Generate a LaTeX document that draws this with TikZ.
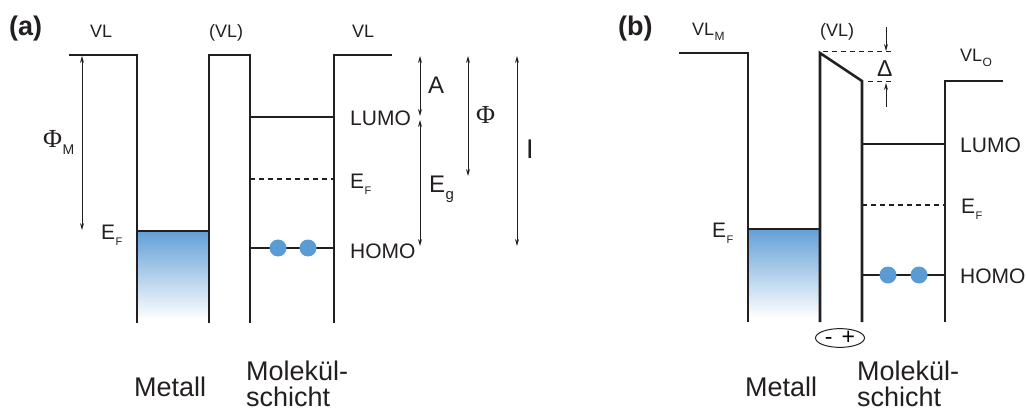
\documentclass[tikz,border=0pt]{standalone}
\usepackage{fontspec}
\setmainfont{Liberation Sans}
\newfontfamily\greekserif{Liberation Serif}
\usetikzlibrary{arrows.meta,shapes.geometric}
\definecolor{eblue}{HTML}{5B9BD5}
\definecolor{ink}{HTML}{231F20}
\newcommand{\fs}[1]{\fontsize{#1}{#1}\selectfont}
\newcommand{\lsub}[2]{#1\kern0.3pt\raisebox{-6pt}{\fs{11}#2}}
\begin{document}
\begin{tikzpicture}[x=1pt,y=-1pt,
  wall/.style={line width=2.6pt, ink, line join=miter},
  level/.style={line width=1.2pt, ink},
  dlevel/.style={line width=1.1pt, ink, dash pattern=on 5pt off 4pt},
  dim/.style={line width=0.9pt, ink, {Stealth[length=7pt,width=4pt]}-{Stealth[length=7pt,width=4pt]}},
  dimone/.style={line width=0.9pt, ink, -{Stealth[length=7pt,width=4pt]}},
  lbl/.style={inner sep=0pt, anchor=base west, text=ink},
  elec/.style={circle, fill=eblue, inner sep=0pt, minimum size=17pt}]
\useasboundingbox (0,0) rectangle (1026,412);

% ================= (a) =================
\node[lbl, font=\fs{27}\bfseries] (la) at (9,36) {(a)};
\shade[top color=eblue!95, bottom color=white] (137,231) rectangle (209,320);
\draw[level] (137,231) -- (209,231);
\draw[wall] (69,55) -- (137,55) -- (137,323);
\draw[wall] (209,323) -- (209,55) -- (250,55) -- (250,323);
\draw[wall] (334,323) -- (334,55) -- (392,55);
\draw[level] (250,117) -- (334,117);
\draw[dlevel] (250,179) -- (334,179);
\draw[level] (250,248) -- (334,248);
\node[elec] (ea1) at (278,248) {};
\node[elec] (ea2) at (308,248) {};

\node[lbl, font=\fs{18}] (vla1) at (90,38) {VL};
\node[lbl, font=\fs{18}] (vla2) at (209,38) {(VL)};
\node[lbl, font=\fs{18}] (vla3) at (352,38) {VL};
\node[lbl, font=\fs{21}] (lumoa) at (350,125) {LUMO};
\node[lbl, font=\fs{21}] (efa) at (350,188) {\lsub{E}{F}};
\node[lbl, font=\fs{21}] (homoa) at (350,258) {HOMO};
\node[lbl, font=\fs{21}] (efma) at (101,239) {\lsub{E}{F}};
\node[lbl, font=\fs{26}] (phim) at (43,147) {{\greekserif\char"03A6}\kern0.5pt\raisebox{-7pt}{\fs{14}M}};

\coordinate (pmt) at (82,56);
\coordinate (pmb) at (82,230);
\draw[dim] (pmt) -- (pmb);
\coordinate (at) at (420,56);
\coordinate (ab) at (420,116);
\draw[dim] (at) -- (ab);
\coordinate (egt) at (420,120);
\coordinate (egb) at (420,246);
\draw[dim] (egt) -- (egb);
\coordinate (pht) at (468,56);
\coordinate (phb) at (468,176);
\draw[dim] (pht) -- (phb);
\coordinate (it) at (517,56);
\coordinate (ib) at (517,246);
\draw[dim] (it) -- (ib);
\node[lbl, font=\fs{24}] (la2) at (428,93) {A};
\node[lbl, font=\fs{26}] (lp) at (476,123) {\greekserif\char"03A6};
\node[lbl, font=\fs{27}] (li) at (526,158) {I};
\node[lbl, font=\fs{24}] (leg) at (429,192) {E\kern0.3pt\raisebox{-7pt}{\fs{15}g}};

\node[lbl, font=\fs{27}] (meta) at (134,396) {Metall};
\node[lbl, font=\fs{27}] (mola1) at (246,380) {Molekül-};
\node[lbl, font=\fs{27}] (mola2) at (246,406) {schicht};

% ================= (b) =================
\node[lbl, font=\fs{27}\bfseries] (lb) at (618,36) {(b)};
\shade[top color=eblue!95, bottom color=white] (748,229) rectangle (820,318);
\draw[level] (748,229) -- (820,229);
\draw[wall] (679,53) -- (748,53) -- (748,322);
\draw[wall] (820,322) -- (820,53) -- (862,81) -- (862,322);
\draw[wall] (945,322) -- (945,81) -- (1003,81);
\draw[level] (862,144) -- (945,144);
\draw[dlevel] (862,205) -- (945,205);
\draw[level] (862,275) -- (945,275);
\node[elec] (eb1) at (888,275) {};
\node[elec] (eb2) at (919,275) {};

\draw[dlevel, line width=1pt] (823,52) -- (894,52);
\draw[dlevel, line width=1pt] (868,82) -- (894,82);
\coordinate (d1) at (886,27);
\coordinate (d2) at (886,51);
\coordinate (d3) at (886,107);
\coordinate (d4) at (886,83);
\draw[dimone] (d1) -- (d2);
\draw[dimone] (d3) -- (d4);
\node[lbl, font=\fs{23}] (ldel) at (877,77) {\char"0394};

\node[lbl, font=\fs{18}] (vlm) at (692,36) {VL\kern0.3pt\raisebox{-5pt}{\fs{12}M}};
\node[lbl, font=\fs{18}] (vlb) at (820,37) {(VL)};
\node[lbl, font=\fs{18}] (vlo) at (960,62) {VL\kern0.3pt\raisebox{-5pt}{\fs{12}O}};
\node[lbl, font=\fs{21}] (lumob) at (960,152) {LUMO};
\node[lbl, font=\fs{21}] (efb) at (961,213) {\lsub{E}{F}};
\node[lbl, font=\fs{21}] (homob) at (960,283) {HOMO};
\node[lbl, font=\fs{21}] (efmb) at (712,237) {\lsub{E}{F}};

\node[ellipse, draw=ink, line width=1pt, minimum width=49pt, minimum height=18pt, inner sep=0pt, font=\fs{23}] (dip) at (840,338) {-\kern9pt+};

\node[lbl, font=\fs{27}] (metb) at (745,396) {Metall};
\node[lbl, font=\fs{27}] (molb1) at (857,380) {Molekül-};
\node[lbl, font=\fs{27}] (molb2) at (857,406) {schicht};
\end{tikzpicture}
\end{document}
